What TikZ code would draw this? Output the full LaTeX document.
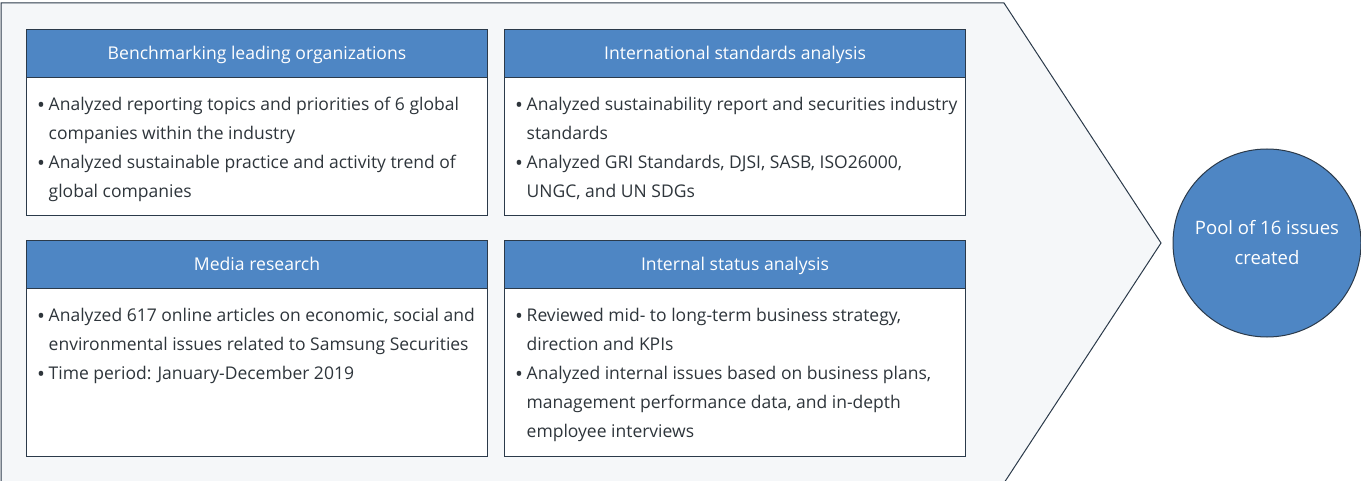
\documentclass[tikz,border=0pt]{standalone}
\usepackage{fontspec}
\setmainfont{Open Sans}
\definecolor{bgfill}{HTML}{F5F7F9}
\definecolor{edge}{HTML}{2B3A4A}
\definecolor{hblue}{HTML}{4E86C4}
\definecolor{txt}{HTML}{2E353B}
\newcommand{\bul}{\makebox[11.5pt][l]{\raisebox{-1.6pt}{\scalebox{1.2}{•}}}}
\newcommand{\ind}{\hspace*{11.5pt}}
\newcommand{\htext}[1]{\raisebox{-1.5pt}[13pt][4pt]{#1}}
\tikzset{
  bodybox/.style={draw=edge, line width=1pt, fill=white, rectangle, anchor=north west, minimum width=461pt, inner sep=0pt},
  headbox/.style={draw=edge, line width=1pt, fill=hblue, rectangle, anchor=north west, minimum width=461pt, minimum height=48pt, inner sep=0pt, text=white, font=\fontsize{17.6}{20}\selectfont},
  bodytext/.style={anchor=north west, inner sep=0pt, align=left, text=txt, font=\fontsize{17.5}{29}\selectfont},
  pool/.style={circle, draw=edge, line width=1pt, fill=hblue, minimum size=188pt, inner sep=0pt, text=white, align=center, font=\fontsize{18.5}{30}\selectfont}
}
\begin{document}
\begin{tikzpicture}[x=1pt,y=-1pt]
\useasboundingbox (0,0) rectangle (1361,481);
\draw[fill=bgfill, draw=edge, line width=1pt] (1,3) -- (1004,3) -- (1161,243) -- (1004,483) -- (1,483) -- cycle;
% boxes
\node[bodybox, minimum height=186pt] (b1) at (26,29) {};
\node[headbox] (h1) at (b1.north west) {\htext{Benchmarking leading organizations}};
\node[bodybox, minimum height=186pt] (b2) at (504,29) {};
\node[headbox] (h2) at (b2.north west) {\htext{International standards analysis}};
\node[bodybox, minimum height=216pt] (b3) at (26,240) {};
\node[headbox] (h3) at (b3.north west) {\htext{Media research}};
\node[bodybox, minimum height=216pt] (b4) at (504,240) {};
\node[headbox] (h4) at (b4.north west) {\htext{Internal status analysis}};
% body texts
\node[bodytext] (t1) at (37,97) {\bul Analyzed reporting topics and priorities of 6 global\\ \ind companies within the industry\\ \bul Analyzed sustainable practice and activity trend of\\ \ind global companies};
\node[bodytext] (t2) at (515,97) {\bul Analyzed sustainability report and securities industry\\ \ind standards\\ \bul Analyzed GRI Standards, DJSI, SASB, ISO26000,\\ \ind UNGC, and UN SDGs};
\node[bodytext] (t3) at (37,308) {\bul Analyzed 617 online articles on economic, social and\\ \ind environmental issues related to Samsung Securities\\ \bul Time period: January-December 2019};
\node[bodytext] (t4) at (515,308) {\bul Reviewed mid- to long-term business strategy,\\ \ind direction and KPIs\\ \bul Analyzed internal issues based on business plans,\\ \ind management performance data, and in-depth\\ \ind employee interviews};
% circle
\node[pool] (c) at (1267,243) {Pool of 16 issues\\created};
\end{tikzpicture}
\end{document}
